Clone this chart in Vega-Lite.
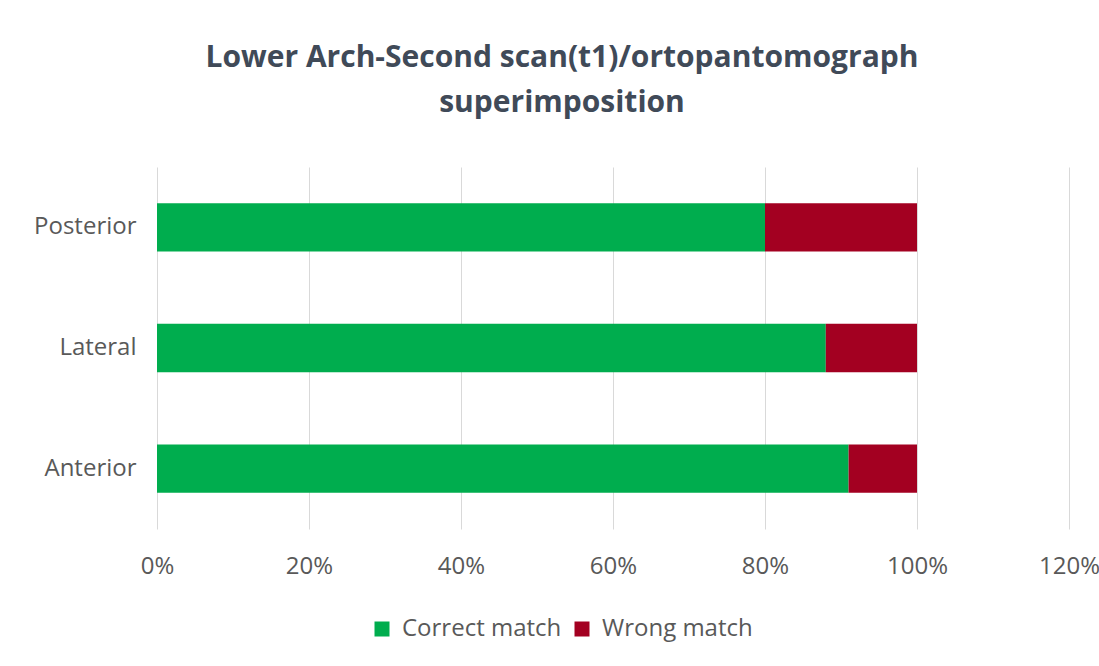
{
  "$schema": "https://vega.github.io/schema/vega-lite/v6.json",
  "autosize": "none",
  "width": 912,
  "height": 362,
  "padding": {"left": 157, "top": 167, "right": 30, "bottom": 137},
  "background": "white",
  "title": {
    "text": ["Lower Arch-Second scan(t1)/ortopantomograph", "superimposition"],
    "fontSize": 30,
    "fontWeight": "bold",
    "font": "Open Sans",
    "color": "#404A58",
    "lineHeight": 45,
    "anchor": "middle",
    "dx": -51,
    "offset": 49
  },
  "data": {
    "values": [
      {"region": "Posterior", "type": "Correct match", "value": 0.80},
      {"region": "Posterior", "type": "Wrong match", "value": 0.20},
      {"region": "Lateral", "type": "Correct match", "value": 0.88},
      {"region": "Lateral", "type": "Wrong match", "value": 0.12},
      {"region": "Anterior", "type": "Correct match", "value": 0.91},
      {"region": "Anterior", "type": "Wrong match", "value": 0.09}
    ]
  },
  "mark": {"type": "bar"},
  "encoding": {
    "y": {
      "field": "region",
      "type": "nominal",
      "sort": ["Posterior", "Lateral", "Anterior"],
      "scale": {"paddingInner": 0.6, "paddingOuter": 0.3},
      "axis": {
        "title": null,
        "ticks": false,
        "domain": false,
        "grid": false,
        "labelPadding": 21,
        "labelFontSize": 24,
        "labelFont": "Open Sans",
        "labelColor": "#595959"
      }
    },
    "x": {
      "field": "value",
      "type": "quantitative",
      "stack": "zero",
      "scale": {"domain": [0, 1.2], "nice": false},
      "axis": {
        "title": null,
        "format": ".0%",
        "values": [0, 0.2, 0.4, 0.6, 0.8, 1.0, 1.2],
        "ticks": false,
        "domain": false,
        "grid": true,
        "gridColor": "#D9D9D9",
        "gridWidth": 1,
        "labelFlush": false,
        "labelPadding": 25,
        "labelFontSize": 24,
        "labelFont": "Open Sans",
        "labelColor": "#595959"
      }
    },
    "color": {
      "field": "type",
      "type": "nominal",
      "scale": {"domain": ["Correct match", "Wrong match"], "range": ["#00AD4E", "#A30021"]},
      "legend": {
        "title": null,
        "orient": "none",
        "direction": "horizontal",
        "legendX": 213,
        "legendY": 450,
        "symbolType": "square",
        "symbolSize": 225,
        "symbolStrokeWidth": 0,
        "labelFontSize": 24,
        "labelFont": "Open Sans",
        "labelColor": "#595959",
        "columnPadding": 8,
        "labelOffset": 8
      }
    }
  },
  "config": {"view": {"stroke": null}}
}
